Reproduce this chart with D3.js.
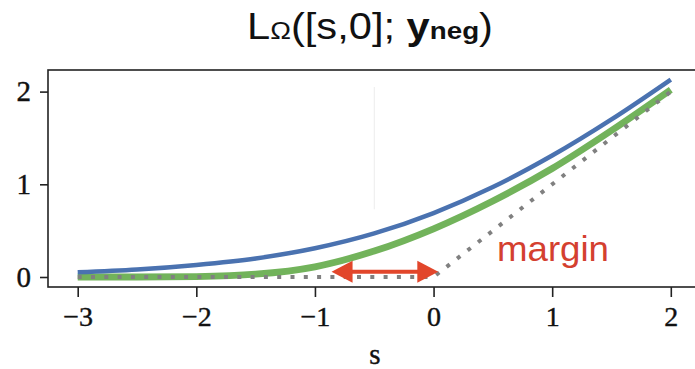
<!DOCTYPE html>
<html>
<head>
<meta charset="utf-8">
<script src="https://cdn.jsdelivr.net/npm/d3@7"></script>
<style>
  html, body { margin: 0; padding: 0; background: #fff; }
  svg { display: block; }
</style>
</head>
<body>
<svg id="chart" width="695" height="369"></svg>
<script>
// ---- data ----
const sValues     = [-3, -2.5, -2, -1.5, -1, -0.5, 0, 0.5, 1, 1.5, 2];
const blueValues  = [0.05, 0.08, 0.13, 0.20, 0.31, 0.47, 0.69, 0.97, 1.31, 1.70, 2.13];
const greenValues = [0.0, 0.0, 0.005, 0.03, 0.11, 0.28, 0.52, 0.82, 1.17, 1.58, 2.02];
const hingeS      = [-3, 0, 2];
const hingeValues = [0, 0, 2];
const xTicks = [-3, -2, -1, 0, 1, 2];
const yTicks = [0, 1, 2];
const arrowFrom = -0.86, arrowTo = 0.04, arrowLevel = 0.057;
const faintLineS = -0.5, faintLineRange = [0.73, 2.05];

(function () {
const svg = d3.select("#chart");
const pLeft = 48, pTop = 70, pBottom = 287, pRight = 702;

const x = d3.scaleLinear().domain([-3, 2]).range([77.7, 670.8]);
const y = d3.scaleLinear().domain([0, 2]).range([277, 91.6]);

// faint artifact line
svg.append("line")
  .attr("x1", x(faintLineS)).attr("x2", x(faintLineS))
  .attr("y1", y(faintLineRange[0])).attr("y2", y(faintLineRange[1]))
  .attr("stroke", "#ececec").attr("stroke-width", 1);

// frame
svg.append("rect")
  .attr("x", pLeft).attr("y", pTop)
  .attr("width", pRight - pLeft).attr("height", pBottom - pTop)
  .attr("fill", "none").attr("stroke", "#222").attr("stroke-width", 1.6);

// axes
const xAxis = d3.axisBottom(x).tickValues(xTicks).tickSize(10).tickPadding(9)
  .tickFormat(d3.format("d"));
const gx = svg.append("g").attr("transform", `translate(0,${pBottom})`).call(xAxis);
gx.select(".domain").remove();
gx.selectAll("line").attr("stroke", "#222").attr("stroke-width", 1.6);
gx.selectAll("text").attr("font-family", "'Liberation Serif', serif")
  .attr("font-size", 28).attr("fill", "#111").attr("stroke", "#111").attr("stroke-width", 0.4);

const yAxis = d3.axisLeft(y).tickValues(yTicks).tickSize(8).tickPadding(9)
  .tickFormat(d3.format("d"));
const gy = svg.append("g").attr("transform", `translate(${pLeft},0)`).call(yAxis);
gy.select(".domain").remove();
gy.selectAll("line").attr("stroke", "#222").attr("stroke-width", 1.6);
gy.selectAll("text").attr("font-family", "'Liberation Serif', serif")
  .attr("font-size", 29).attr("fill", "#111").attr("stroke", "#111").attr("stroke-width", 0.4);

// curves
const line = d3.line().x(d => x(d[0])).y(d => y(d[1])).curve(d3.curveMonotoneX);
const lineLin = d3.line().x(d => x(d[0])).y(d => y(d[1]));

svg.append("path")
  .datum(sValues.map((s, i) => [s, greenValues[i]]))
  .attr("d", line).attr("fill", "none")
  .attr("stroke", "#72b35b").attr("stroke-width", 6.8).attr("stroke-linecap", "butt");

svg.append("path")
  .datum(sValues.map((s, i) => [s, blueValues[i]]))
  .attr("d", line).attr("fill", "none")
  .attr("stroke", "#4a72b0").attr("stroke-width", 4.5);

svg.append("path")
  .datum(hingeS.map((s, i) => [s, hingeValues[i]]))
  .attr("d", lineLin).attr("fill", "none")
  .attr("stroke", "#808080").attr("stroke-width", 4)
  .attr("stroke-dasharray", "4,9.3");

// margin arrow
const ax1 = x(arrowFrom), ax2 = x(arrowTo), ay = y(arrowLevel);
const headL = 21, headH = 11;
const red = "#e2462b";
svg.append("line")
  .attr("x1", ax1 + headL - 2).attr("x2", ax2 - headL + 2)
  .attr("y1", ay).attr("y2", ay)
  .attr("stroke", red).attr("stroke-width", 4);
svg.append("path")
  .attr("d", `M${ax1},${ay} L${ax1 + headL},${ay - headH} L${ax1 + headL},${ay + headH} Z`)
  .attr("fill", red);
svg.append("path")
  .attr("d", `M${ax2},${ay} L${ax2 - headL},${ay - headH} L${ax2 - headL},${ay + headH} Z`)
  .attr("fill", red);

// margin label
svg.append("text")
  .attr("x", 497).attr("y", 261)
  .attr("font-family", "'Liberation Sans', Arial, sans-serif")
  .attr("font-size", 35).attr("fill", "#d4402f")
  .attr("textLength", 112).attr("lengthAdjust", "spacingAndGlyphs")
  .text("margin");

// x label
svg.append("text")
  .attr("x", 375).attr("y", 364).attr("text-anchor", "middle")
  .attr("font-family", "'Liberation Serif', serif")
  .attr("font-size", 29).attr("fill", "#111").attr("stroke", "#111").attr("stroke-width", 0.4)
  .text("s");

// title
const title = svg.append("text")
  .attr("x", 247).attr("y", 39)
  .attr("font-family", "'Liberation Sans', Arial, sans-serif")
  .attr("fill", "#111")
  .attr("textLength", 246).attr("lengthAdjust", "spacingAndGlyphs");
title.append("tspan").attr("font-size", 36).text("L");
title.append("tspan").attr("font-size", 24).text("Ω");
title.append("tspan").attr("font-size", 36).text("([s,0]; ");
title.append("tspan").attr("font-size", 36).attr("font-weight", "bold").text("y");
title.append("tspan").attr("font-size", 24).attr("font-weight", "bold").text("neg");
title.append("tspan").attr("font-size", 36).text(")");
})();
</script>
</body>
</html>
